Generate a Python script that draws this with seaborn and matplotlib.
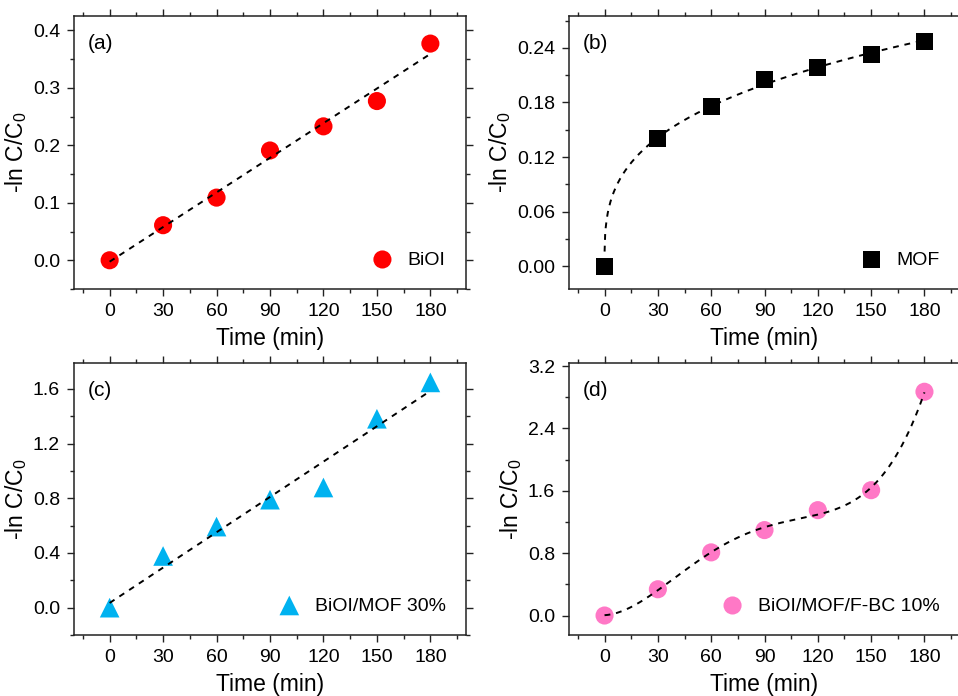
import numpy as np
import pandas as pd
import matplotlib
matplotlib.use("Agg")
import matplotlib.pyplot as plt
import seaborn as sns
from matplotlib.ticker import MultipleLocator, FuncFormatter

# Irradiation time (min)
time_min = [0, 30, 60, 90, 120, 150, 180]

# -ln(C/C0) for each photocatalyst
biox_vals = [0.0, 0.061, 0.109, 0.191, 0.233, 0.277, 0.377]
mof_vals = [0.0, 0.1405, 0.1752, 0.2052, 0.2187, 0.2327, 0.2465]
biox_mof_vals = [0.0, 0.378, 0.593, 0.790, 0.879, 1.382, 1.648]
biox_mof_fbc_vals = [0.0, 0.337, 0.810, 1.096, 1.352, 1.608, 2.871]

series_labels = ["BiOI", "MOF", "BiOI/MOF 30%", "BiOI/MOF/F-BC 10%"]
panel_tags = ["(a)", "(b)", "(c)", "(d)"]
y_limits = [(-0.05, 0.425), (-0.025, 0.275), (-0.2, 1.79), (-0.25, 3.24)]
y_major = [0.1, 0.06, 0.4, 0.8]
y_fmt = ["{:.1f}", "{:.2f}", "{:.1f}", "{:.1f}"]

sns.set_style("ticks")
plt.rcParams["font.family"] = ["Liberation Sans", "DejaVu Sans"]
plt.rcParams["mathtext.fontset"] = "custom"
plt.rcParams["mathtext.rm"] = "Liberation Sans"
plt.rcParams["mathtext.it"] = "Liberation Sans:italic"
plt.rcParams["text.color"] = "black"
plt.rcParams["axes.labelcolor"] = "black"
plt.rcParams["xtick.color"] = "black"
plt.rcParams["ytick.color"] = "black"

fig = plt.figure(figsize=(9.58, 6.96), dpi=100)
W, H = 958.0, 696.0


def make_axes(left, top, right, bottom):
    return fig.add_axes([left / W, 1 - bottom / H, (right - left) / W, (bottom - top) / H])


axes = [
    make_axes(74, 16, 466, 289),
    make_axes(569, 16, 960, 289),
    make_axes(74, 363, 466, 635),
    make_axes(569, 363, 960, 635),
]

t = np.array(time_min, dtype=float)

# Fitted curves: linear for (a)/(c), power law for (b), polynomial for (d)
xa = np.linspace(0, 180, 300)
ca = np.polyfit(t, biox_vals, 1)
cb = np.polyfit(np.log(t[1:]), np.log(np.array(mof_vals)[1:]), 1)
xb = np.linspace(0.03, 180, 600)
yb = np.exp(cb[1]) * xb ** cb[0]
cc = np.polyfit(t, biox_mof_vals, 1)
cd = np.polyfit(t, biox_mof_fbc_vals, 4)
fits = [
    (xa, np.polyval(ca, xa)),
    (xb, yb),
    (xa, np.polyval(cc, xa)),
    (xa, np.polyval(cd, xa)),
]

datasets = [biox_vals, mof_vals, biox_mof_vals, biox_mof_fbc_vals]
colors = ["#FF0000", "#000000", "#00B2F0", "#FF78C6"]
markers = ["o", "s", "^", "o"]
sizes = [170, 150, 200, 170]

for i, ax in enumerate(axes):
    df = pd.DataFrame({"time": time_min, "val": datasets[i]})
    sns.scatterplot(data=df, x="time", y="val", ax=ax, color=colors[i], marker=markers[i],
                    s=sizes[i], edgecolor="none", linewidth=0, label=series_labels[i], zorder=2)
    fx, fy = fits[i]
    sns.lineplot(x=fx, y=fy, ax=ax, color="black", linewidth=1.4, linestyle=(0, (3, 3)),
                 sort=False, estimator=None, zorder=3)
    ax.set_xlim(-20, 200)
    ax.set_ylim(*y_limits[i])
    ax.set_xticks(time_min)
    ax.xaxis.set_minor_locator(MultipleLocator(15))
    ax.yaxis.set_major_locator(MultipleLocator(y_major[i]))
    ax.yaxis.set_minor_locator(MultipleLocator(y_major[i] / 2))
    ax.yaxis.set_major_formatter(FuncFormatter(lambda v, p, f=y_fmt[i]: f.format(0.0 if abs(v) < 1e-9 else v)))
    ax.tick_params(which="both", direction="out", top=True, right=True, width=1.0, color="#222222")
    ax.tick_params(which="major", length=5, labelsize=14, pad=5)
    ax.tick_params(which="minor", length=3)
    for sp in ax.spines.values():
        sp.set_visible(True)
        sp.set_linewidth(1.1)
        sp.set_color("#222222")
    ax.set_xlabel("Time (min)", fontsize=16.5, labelpad=5)
    ax.set_ylabel("-ln C/C$_0$", fontsize=16.5, labelpad=3)
    ax.text(0.036, 0.90, panel_tags[i], transform=ax.transAxes, fontsize=15, va="center", ha="left")
    ax.legend(loc="lower right", frameon=False, fontsize=14, handletextpad=0.3,
              borderaxespad=0.65, markerscale=1.0)

fig.savefig("out.png", dpi=100)
